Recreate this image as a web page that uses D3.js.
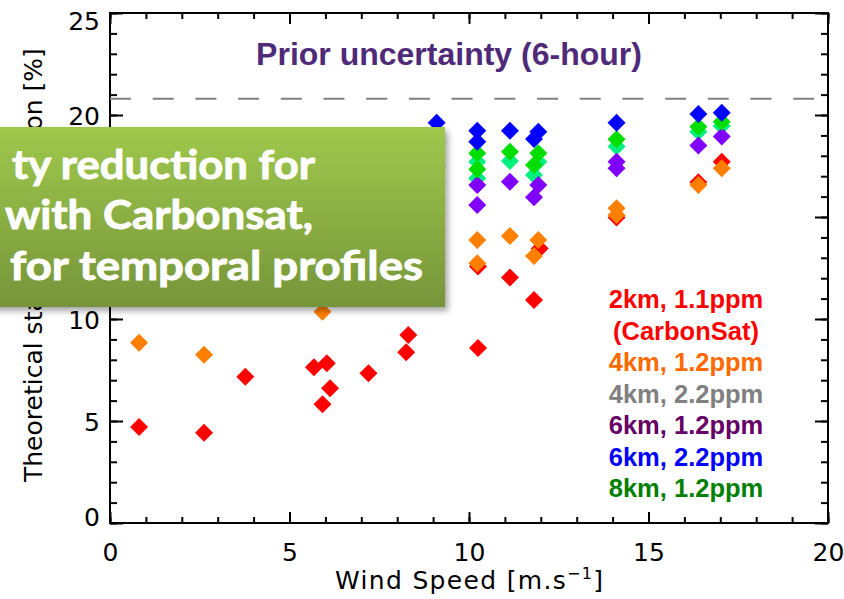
<!DOCTYPE html>
<html>
<head>
<meta charset="utf-8">
<script src="https://cdn.jsdelivr.net/npm/d3@7"></script>
<style>
  body { margin: 0; background: #fff; }
  svg { display: block; }
</style>
</head>
<body>
<svg id="chart" width="844" height="599"></svg>
<script>
// wind speed / uncertainty values
var windRed = [0.81, 2.62, 3.77, 5.68, 5.92, 6.04, 6.13, 7.20, 8.25, 8.31, 9.10, 10.25, 10.25, 11.14, 11.81, 11.97, 14.11, 16.39, 17.04];
var valRed  = [4.71, 4.43, 7.17, 7.63, 5.82, 7.83, 6.60, 7.34, 8.37, 9.22, 11.42, 8.58, 12.57, 12.04, 10.93, 13.46, 14.98, 16.70, 17.71];

var windOrange = [0.81, 2.62, 5.92, 9.10, 10.23, 10.23, 11.14, 11.81, 11.93, 14.11, 14.11, 16.39, 17.04];
var valOrange  = [8.84, 8.25, 10.36, 15.10, 13.87, 12.73, 14.07, 13.09, 13.87, 15.43, 15.10, 16.57, 17.39];

var windMint = [9.10, 10.23, 10.23, 11.14, 11.81, 11.93, 14.11, 16.39, 17.04];
var valMint  = [18.40, 17.71, 16.90, 17.75, 17.06, 17.71, 18.45, 19.18, 19.46];

var windPurple = [9.10, 10.23, 10.23, 11.14, 11.81, 11.93, 14.11, 14.11, 16.39, 17.04];
var valPurple  = [17.47, 16.57, 15.59, 16.73, 15.97, 16.57, 17.71, 17.39, 18.50, 18.94];

var windGreen = [9.10, 10.23, 10.23, 11.14, 11.81, 11.93, 14.11, 16.39, 17.04];
var valGreen  = [18.68, 18.12, 17.34, 18.20, 17.55, 18.12, 18.81, 19.43, 19.67];

var windBlue = [9.10, 10.23, 10.23, 11.14, 11.81, 11.93, 14.11, 16.39, 17.04];
var valBlue  = [19.62, 19.23, 18.69, 19.23, 18.82, 19.18, 19.62, 20.05, 20.11];

var priorLevel = 20.8;

var xTicks = [0, 5, 10, 15, 20];
var yTicks = [0, 5, 10, 15, 20, 25];

var legendLabels = ["2km, 1.1ppm", "(CarbonSat)", "4km, 1.2ppm", "4km, 2.2ppm", "6km, 1.2ppm", "6km, 2.2ppm", "8km, 1.2ppm"];
var legendColors = ["#ff0000", "#ff0000", "#ff6a00", "#808080", "#660066", "#0000ff", "#008000"];

var boxLines = ["ty reduction for", "with Carbonsat,", "for temporal profiles"];

// plot area (window.top is reserved, so prefix the names)
var plotL = 110, plotR = 828, plotT = 13, plotB = 523;

var svg = d3.select("#chart");

var x = d3.scaleLinear().domain([0, 20]).range([plotL, plotR]);
var y = d3.scaleLinear().domain([0, 25]).range([plotB, plotT]);

var minorX = d3.range(0, 21, 1);
var minorY = d3.range(0, 26, 1);

// ---- axes (IDL style, ticks pointing inward on all 4 sides) ----
var axisFont = "'DejaVu Sans', sans-serif";

// minor ticks
svg.append("g").attr("transform", "translate(0," + plotB + ")")
  .call(d3.axisBottom(x).tickValues(minorX).tickSize(-6).tickFormat(""));
svg.append("g").attr("transform", "translate(0," + plotT + ")")
  .call(d3.axisTop(x).tickValues(minorX).tickSize(-6).tickFormat(""));
svg.append("g").attr("transform", "translate(" + plotL + ",0)")
  .call(d3.axisLeft(y).tickValues(minorY).tickSize(-7).tickFormat(""));
svg.append("g").attr("transform", "translate(" + plotR + ",0)")
  .call(d3.axisRight(y).tickValues(minorY).tickSize(-7).tickFormat(""));

// major ticks
var xAxis = svg.append("g").attr("transform", "translate(0," + plotB + ")")
  .call(d3.axisBottom(x).tickValues(xTicks).tickSize(-11).tickPadding(20).tickFormat(d3.format("d")));
svg.append("g").attr("transform", "translate(0," + plotT + ")")
  .call(d3.axisTop(x).tickValues(xTicks).tickSize(-11).tickFormat(""));
var yAxis = svg.append("g").attr("transform", "translate(" + plotL + ",0)")
  .call(d3.axisLeft(y).tickValues(yTicks).tickSize(-13).tickPadding(10).tickFormat(d3.format("d")));
svg.append("g").attr("transform", "translate(" + plotR + ",0)")
  .call(d3.axisRight(y).tickValues(yTicks).tickSize(-13).tickFormat(""));

svg.selectAll(".domain").remove();
svg.selectAll(".tick line").attr("stroke", "#000").attr("stroke-width", 2);

xAxis.selectAll("text").attr("font-family", axisFont).attr("font-size", 25).attr("fill", "#000");
yAxis.selectAll("text").attr("font-family", axisFont).attr("font-size", 25).attr("fill", "#000")
  .attr("dy", function(d) {
    if (d === 0) return "0.08em";
    if (d === 25) return "0.64em";
    return "0.38em";
  });

// frame
svg.append("rect")
  .attr("x", plotL).attr("y", plotT)
  .attr("width", plotR - plotL).attr("height", plotB - plotT)
  .attr("fill", "none").attr("stroke", "#000").attr("stroke-width", 2);

// axis titles
var xTitle = svg.append("text")
  .attr("x", 469).attr("y", 589)
  .attr("text-anchor", "middle")
  .attr("font-family", axisFont).attr("font-size", 25)
  .attr("textLength", 268).attr("lengthAdjust", "spacing")
  .text("Wind Speed [m.s");
xTitle.append("tspan").attr("dy", -10).attr("font-size", 16).text("\u22121");
xTitle.append("tspan").attr("dy", 10).text("]");

svg.append("text")
  .attr("transform", "translate(42,482) rotate(-90)")
  .attr("font-family", axisFont).attr("font-size", 25)
  .text("Theoretical standard deviation [%]");

// prior uncertainty dashed line
svg.append("line")
  .attr("x1", plotL).attr("x2", plotR)
  .attr("y1", y(priorLevel)).attr("y2", y(priorLevel))
  .attr("stroke", "#808080").attr("stroke-width", 2)
  .attr("stroke-dasharray", "21,21.7");

svg.append("text")
  .attr("x", 449).attr("y", 65)
  .attr("text-anchor", "middle")
  .attr("font-family", "'Liberation Sans', Arial, sans-serif")
  .attr("font-weight", "bold").attr("font-size", 32)
  .attr("fill", "#4e2a78")
  .text("Prior uncertainty (6-hour)");

// ---- scatter points ----
var series = [
  {wind: windRed, val: valRed, color: "#ff0000"},
  {wind: windOrange, val: valOrange, color: "#ff8000"},
  {wind: windMint, val: valMint, color: "#00f080"},
  {wind: windPurple, val: valPurple, color: "#8000ff"},
  {wind: windGreen, val: valGreen, color: "#00dd00"},
  {wind: windBlue, val: valBlue, color: "#0000ff"}
];

var diamond = d3.symbol().type(d3.symbolSquare).size(162);

series.forEach(function(s) {
  var pts = s.wind.map(function(w, i) { return [w, s.val[i]]; });
  svg.append("g").selectAll("path")
    .data(pts)
    .enter().append("path")
    .attr("d", diamond)
    .attr("transform", function(d) { return "translate(" + x(d[0]) + "," + y(d[1]) + ") rotate(45)"; })
    .attr("fill", s.color);
});

// ---- legend ----
svg.append("g").selectAll("text")
  .data(legendLabels)
  .enter().append("text")
  .attr("x", 686)
  .attr("y", function(d, i) { return 308 + i * 31.5; })
  .attr("text-anchor", "middle")
  .attr("font-family", "'Liberation Sans', Arial, sans-serif")
  .attr("font-weight", "bold").attr("font-size", 25.5)
  .attr("fill", function(d, i) { return legendColors[i]; })
  .text(function(d) { return d; });

// ---- green callout box ----
var defs = svg.append("defs");
var grad = defs.append("linearGradient").attr("id", "boxGrad")
  .attr("x1", 0).attr("y1", 0).attr("x2", 0).attr("y2", 1);
grad.append("stop").attr("offset", "0%").attr("stop-color", "#9fc84c");
grad.append("stop").attr("offset", "100%").attr("stop-color", "#76953a");

var shadow = defs.append("filter").attr("id", "boxShadow")
  .attr("x", "-10%").attr("y", "-10%").attr("width", "130%").attr("height", "130%");
shadow.append("feDropShadow")
  .attr("dx", 3).attr("dy", 4).attr("stdDeviation", 3)
  .attr("flood-color", "#000").attr("flood-opacity", 0.35);

svg.append("rect")
  .attr("x", -20).attr("y", 127)
  .attr("width", 465).attr("height", 180)
  .attr("fill", "url(#boxGrad)")
  .attr("filter", "url(#boxShadow)");

var boxX = [12, 5, 10];
var boxW = [303, 308, 413];
var boxY = [179, 229, 280];

svg.append("g").selectAll("text")
  .data(boxLines)
  .enter().append("text")
  .attr("x", function(d, i) { return boxX[i]; })
  .attr("y", function(d, i) { return boxY[i]; })
  .attr("textLength", function(d, i) { return boxW[i]; })
  .attr("lengthAdjust", "spacingAndGlyphs")
  .attr("font-family", "Lato, 'Open Sans', sans-serif")
  .attr("font-weight", "bold").attr("font-size", 41)
  .attr("fill", "#fff")
  .attr("stroke", "#fff").attr("stroke-width", 0.9)
  .text(function(d) { return d; });
</script>
</body>
</html>
